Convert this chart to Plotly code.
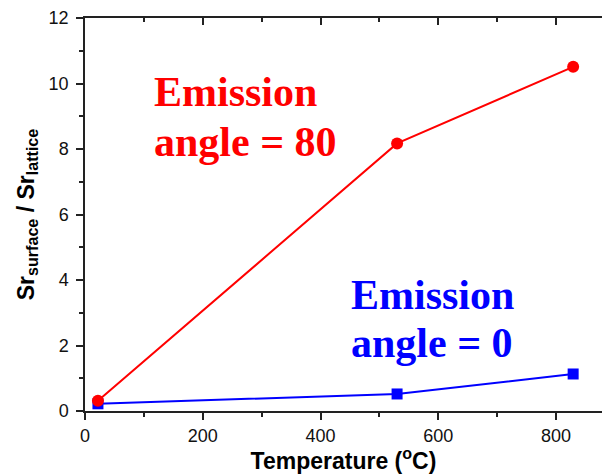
import plotly.graph_objects as go

# Measured ratio of surface to lattice Sr versus anneal temperature
temperature_c = [22, 530, 829]
ratio_angle_80 = [0.31, 8.17, 10.51]
ratio_angle_0 = [0.22, 0.52, 1.13]

x_ticks = [0, 200, 400, 600, 800]
y_ticks = [0, 2, 4, 6, 8, 10, 12]

RED = "#ff0000"
BLUE = "#0000ff"
X_RANGE = [0, 878]
Y_RANGE = [0, 12]

fig = go.Figure()

fig.add_trace(go.Scatter(
    x=temperature_c, y=ratio_angle_0, mode="lines+markers",
    line=dict(color=BLUE, width=2),
    marker=dict(symbol="square", size=11, color=BLUE),
    showlegend=False,
))
fig.add_trace(go.Scatter(
    x=temperature_c, y=ratio_angle_80, mode="lines+markers",
    line=dict(color=RED, width=2),
    marker=dict(symbol="circle", size=12, color=RED),
    showlegend=False,
))
# empty trace so the top (inward-tick) axis gets drawn
fig.add_trace(go.Scatter(x=[], y=[], xaxis="x2", showlegend=False))

label_font = dict(family="Liberation Serif", size=42, color=RED)
blue_font = dict(family="Liberation Serif", size=42, color=BLUE)

annotations = [
    dict(x=113, y=9.74, text="<b>Emission</b>", font=label_font),
    dict(x=113, y=8.2, text="<b>angle = 80</b>", font=label_font),
    dict(x=449, y=3.53, text="<b>Emission</b>", font=blue_font),
    dict(x=449, y=2.07, text="<b>angle = 0</b>", font=blue_font),
]
for a in annotations:
    a.update(xref="x", yref="y", xanchor="left", yanchor="middle", showarrow=False)

tick_font = dict(family="Liberation Sans", size=18, color="#111111")
xtitle_font = dict(family="Liberation Sans", size=23, color="#000000")
ytitle_font = dict(family="Liberation Sans", size=23, color="#000000")

fig.update_layout(
    width=602, height=474,
    margin=dict(l=85, r=0, t=18, b=63),
    paper_bgcolor="white", plot_bgcolor="white",
    annotations=annotations,
    xaxis=dict(
        range=X_RANGE, tickvals=x_ticks, ticks="outside", ticklen=7, tickwidth=1.5,
        tickcolor="#222", showline=True, linecolor="#222", linewidth=1.5,
        showgrid=False, zeroline=False, tickfont=tick_font, ticklabelstandoff=1,
        minor=dict(dtick=100, tick0=0, ticks="outside", ticklen=4, tickwidth=1.5, tickcolor="#222"),
        title=dict(text="<b>Temperature (<sup>o</sup>C)</b>", font=xtitle_font, standoff=2),
    ),
    xaxis2=dict(
        range=X_RANGE, overlaying="x", side="top", anchor="y",
        tickvals=x_ticks, ticks="inside", ticklen=7, tickwidth=1.5, tickcolor="#222",
        showticklabels=False, showline=True, linecolor="#222", linewidth=1.5,
        showgrid=False, zeroline=False,
        minor=dict(dtick=100, tick0=0, ticks="inside", ticklen=4, tickwidth=1.5, tickcolor="#222"),
    ),
    yaxis=dict(
        range=Y_RANGE, tickvals=y_ticks, ticks="outside", ticklen=7, tickwidth=1.5,
        tickcolor="#222", showline=True, linecolor="#222", linewidth=1.5,
        showgrid=False, zeroline=False, tickfont=tick_font, ticklabelstandoff=4,
        minor=dict(dtick=1, tick0=0, ticks="outside", ticklen=4, tickwidth=1.5, tickcolor="#222"),
        title=dict(text="<b>Sr<sub>surface</sub> / Sr<sub>lattice</sub></b>", font=ytitle_font, standoff=8),
    ),
)

fig.write_html("out.html")
